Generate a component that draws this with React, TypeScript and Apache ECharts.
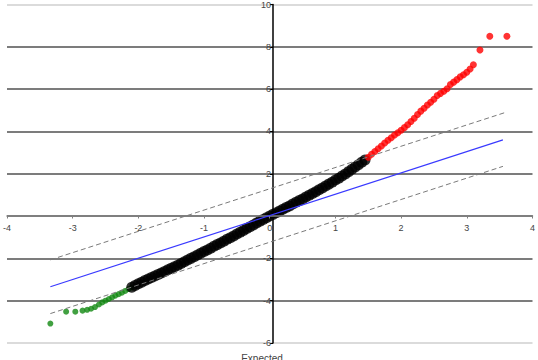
import React, { useEffect, useRef } from "react";
import * as echarts from "echarts";

const blackPoints: [number, number][] = [
  [-2.1, -3.36], [-2.05, -3.28], [-2.0, -3.2], [-1.95, -3.13], [-1.9, -3.05], [-1.85, -2.98],
  [-1.8, -2.9], [-1.75, -2.83], [-1.7, -2.76], [-1.65, -2.69], [-1.6, -2.62], [-1.55, -2.54],
  [-1.5, -2.47], [-1.45, -2.4], [-1.4, -2.32], [-1.35, -2.24], [-1.3, -2.16], [-1.25, -2.08],
  [-1.2, -2.0], [-1.15, -1.92], [-1.1, -1.84], [-1.05, -1.76], [-1.0, -1.68], [-0.95, -1.6],
  [-0.9, -1.52], [-0.85, -1.43], [-0.8, -1.35], [-0.75, -1.27], [-0.7, -1.19], [-0.65, -1.1],
  [-0.6, -1.02], [-0.55, -0.94], [-0.5, -0.85], [-0.45, -0.77], [-0.4, -0.68], [-0.35, -0.59],
  [-0.3, -0.5], [-0.25, -0.42], [-0.2, -0.33], [-0.15, -0.25], [-0.1, -0.16], [-0.05, -0.08],
  [0.0, 0.0], [0.05, 0.08], [0.1, 0.16], [0.15, 0.24], [0.2, 0.32], [0.25, 0.4],
  [0.3, 0.48], [0.35, 0.57], [0.4, 0.65], [0.45, 0.73], [0.5, 0.81], [0.55, 0.9],
  [0.6, 0.98], [0.65, 1.07], [0.7, 1.15], [0.75, 1.24], [0.8, 1.33], [0.85, 1.42],
  [0.9, 1.51], [0.95, 1.6], [1.0, 1.7], [1.05, 1.79], [1.1, 1.89], [1.15, 1.99],
  [1.2, 2.1], [1.25, 2.21], [1.3, 2.32], [1.35, 2.43], [1.4, 2.54], [1.45, 2.65],
];

const redPoints: [number, number][] = [
  [1.5, 2.78], [1.55, 2.92], [1.6, 3.05], [1.65, 3.18], [1.7, 3.31], [1.75, 3.45],
  [1.8, 3.58], [1.85, 3.7], [1.9, 3.83], [1.95, 3.94], [2.0, 4.06], [2.05, 4.18],
  [2.1, 4.32], [2.15, 4.47], [2.2, 4.62], [2.25, 4.8], [2.3, 4.96], [2.35, 5.1],
  [2.4, 5.25], [2.45, 5.38], [2.5, 5.52], [2.55, 5.7], [2.6, 5.8], [2.65, 5.9],
  [2.7, 6.02], [2.75, 6.22], [2.8, 6.33], [2.85, 6.45], [2.9, 6.58], [2.95, 6.68],
  [3.0, 6.8], [3.05, 6.95], [3.1, 7.15], [3.2, 7.85], [3.35, 8.5], [3.61, 8.5],
];

const greenPoints: [number, number][] = [
  [-3.34, -5.08], [-3.1, -4.52], [-2.96, -4.52], [-2.85, -4.47], [-2.78, -4.43], [-2.72, -4.38],
  [-2.66, -4.3], [-2.6, -4.18], [-2.55, -4.08], [-2.5, -4.0], [-2.45, -3.92], [-2.4, -3.84],
  [-2.35, -3.76], [-2.3, -3.69], [-2.25, -3.62], [-2.2, -3.54], [-2.15, -3.45], [-2.1, -3.38],
];

const fitLine: [number, number][] = [[-3.34, -3.34], [3.55, 3.6]];
const upperBand: [number, number][] = [[-3.34, -2.07], [3.57, 4.88]];
const lowerBand: [number, number][] = [[-3.34, -4.61], [3.55, 2.35]];

const FONT = "'Liberation Sans', Arial, sans-serif";
const GRID_LEFT = 3;
const GRID_WIDTH = 532;
const GRID_TOP = 3;
const GRID_HEIGHT = 340;
const Y_MIN = -6;
const Y_MAX = 10;

export default function App() {
  const ref = useRef<HTMLDivElement>(null);
  useEffect(() => {
    if (!ref.current) return;
    const chart = echarts.init(ref.current, undefined, { renderer: "svg" });
    // distance of the value-0 line above the grid's bottom edge
    const zeroFromBottom = (GRID_HEIGHT * (0 - Y_MIN)) / (Y_MAX - Y_MIN);
    chart.setOption({
      animation: false,
      grid: { left: GRID_LEFT, width: GRID_WIDTH, top: GRID_TOP, height: GRID_HEIGHT, containLabel: false },
      xAxis: {
        type: "value",
        min: -4,
        max: 4,
        interval: 1,
        position: "bottom",
        offset: -zeroFromBottom,
        axisLine: { show: true, onZero: false, lineStyle: { color: "#808080", width: 1.5 } },
        axisTick: { show: true, length: 3, lineStyle: { color: "#808080" } },
        axisLabel: { fontSize: 9, color: "#444", margin: 8, fontFamily: FONT },
        splitLine: { show: false },
        z: 3,
      },
      yAxis: {
        type: "value",
        min: Y_MIN,
        max: Y_MAX,
        interval: 2,
        position: "left",
        offset: -GRID_WIDTH / 2,
        axisLine: { show: true, onZero: false, lineStyle: { color: "#000", width: 1.5 } },
        axisTick: { show: true, length: 3, lineStyle: { color: "#000" } },
        axisLabel: { fontSize: 9, color: "#444", margin: 2, fontFamily: FONT },
        splitLine: {
          show: true,
          lineStyle: {
            color: ["#cfcfcf", "#505050", "#505050", "#505050", "#505050", "#505050", "#505050", "#505050", "#cfcfcf"],
            width: 1.5,
          },
        },
      },
      graphic: [
        {
          type: "text",
          x: 262,
          y: 353,
          style: { text: "Expected", fontSize: 10, fill: "#444", textAlign: "center", fontFamily: FONT },
        },
      ],
      series: [
        {
          type: "line",
          data: fitLine,
          symbol: "none",
          lineStyle: { color: "#3a3aff", width: 1.2 },
        },
        {
          type: "line",
          data: upperBand,
          symbol: "none",
          lineStyle: { color: "#7a7a7a", width: 1, type: [5, 3] },
        },
        {
          type: "line",
          data: lowerBand,
          symbol: "none",
          lineStyle: { color: "#7a7a7a", width: 1, type: [5, 3] },
        },
        {
          type: "scatter",
          data: greenPoints,
          symbolSize: 6,
          itemStyle: { color: "#118811" },
        },
        {
          type: "scatter",
          data: blackPoints,
          symbolSize: 11,
          itemStyle: { color: "#000" },
        },
        {
          type: "scatter",
          data: redPoints,
          symbolSize: 7,
          itemStyle: { color: "#ff0000" },
        },
      ],
    });
    return () => chart.dispose();
  }, []);
  return (
    <div
      ref={ref}
      style={{ position: "fixed", left: 0, top: 0, width: 538, height: 360, background: "#fff" }}
    />
  );
}
